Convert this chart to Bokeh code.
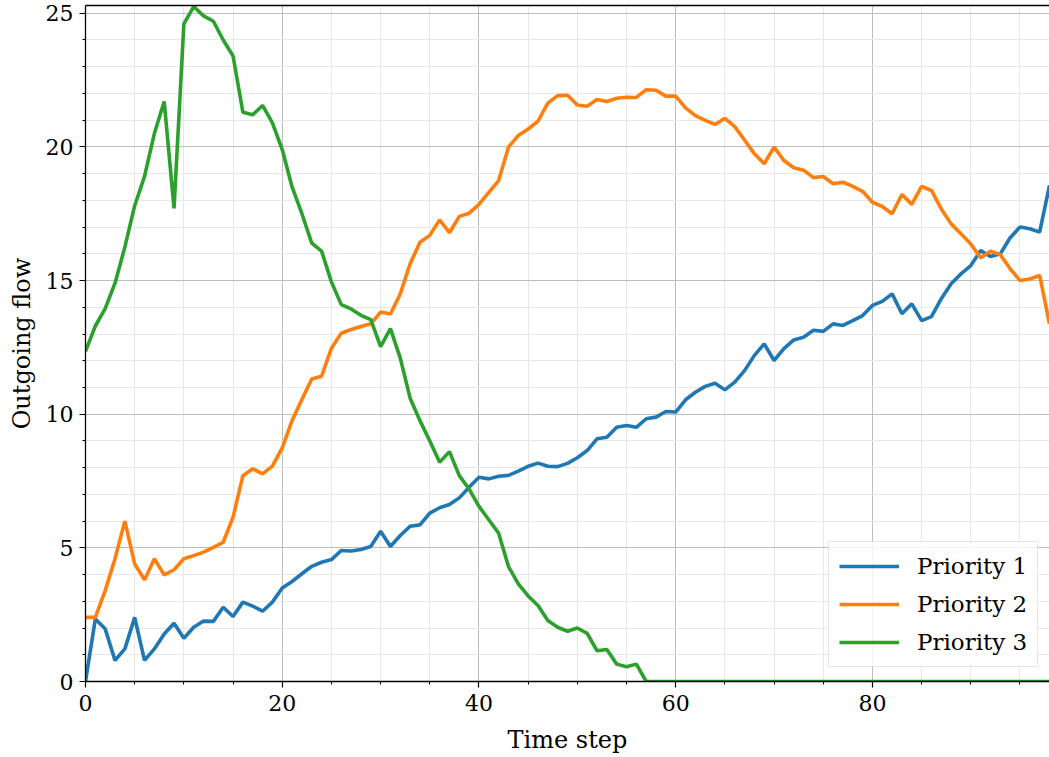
from bokeh.plotting import figure
from bokeh.models import (Range1d, SingleIntervalTicker, FixedTicker, LinearAxis, Legend, LegendItem)
from bokeh.embed import file_html
from bokeh.resources import INLINE

time_step = list(range(99))

priority_1 = [0.0, 2.34, 1.97, 0.79, 1.22, 2.4, 0.79, 1.22, 1.78, 2.18,
              1.62, 2.03, 2.26, 2.25, 2.78, 2.43, 2.97, 2.82, 2.63, 2.97,
              3.5, 3.74, 4.03, 4.31, 4.46, 4.56, 4.9, 4.88, 4.94, 5.05,
              5.62, 5.05, 5.46, 5.81, 5.86, 6.3, 6.5, 6.62, 6.87, 7.27,
              7.64, 7.58, 7.68, 7.71, 7.87, 8.05, 8.17, 8.05, 8.04, 8.16,
              8.37, 8.64, 9.08, 9.14, 9.51, 9.58, 9.51, 9.83, 9.89, 10.1,
              10.08, 10.54, 10.82, 11.04, 11.16, 10.91, 11.2, 11.63, 12.2, 12.63,
              12.01, 12.45, 12.78, 12.88, 13.14, 13.1, 13.38, 13.32, 13.5, 13.69,
              14.07, 14.22, 14.5, 13.76, 14.13, 13.5, 13.65, 14.32, 14.88, 15.25,
              15.56, 16.12, 15.9, 16.0, 16.6, 17.0, 16.94, 16.81, 18.56]

priority_2 = [2.4, 2.4, 3.4, 4.59, 6.0, 4.4, 3.8, 4.59, 3.99, 4.18,
              4.59, 4.71, 4.84, 5.02, 5.21, 6.15, 7.7, 7.96, 7.77, 8.06,
              8.74, 9.76, 10.55, 11.32, 11.42, 12.47, 13.03, 13.17, 13.28, 13.38,
              13.82, 13.75, 14.5, 15.63, 16.43, 16.69, 17.27, 16.79, 17.4, 17.52,
              17.85, 18.3, 18.74, 19.99, 20.43, 20.67, 20.96, 21.64, 21.92, 21.93,
              21.57, 21.52, 21.77, 21.7, 21.82, 21.86, 21.85, 22.14, 22.12, 21.9,
              21.9, 21.46, 21.17, 20.99, 20.84, 21.07, 20.76, 20.26, 19.74, 19.37,
              19.99, 19.49, 19.22, 19.13, 18.85, 18.89, 18.62, 18.68, 18.52, 18.34,
              17.93, 17.77, 17.5, 18.22, 17.85, 18.52, 18.37, 17.68, 17.12, 16.75,
              16.37, 15.85, 16.1, 15.97, 15.44, 15.0, 15.06, 15.19, 13.38]

priority_3 = [12.35, 13.3, 13.95, 14.9, 16.25, 17.8, 18.9, 20.5, 21.7, 17.7,
              24.6, 25.25, 24.9, 24.7, 24.0, 23.4, 21.3, 21.2, 21.55, 20.9,
              19.9, 18.5, 17.5, 16.4, 16.1, 14.95, 14.1, 13.94, 13.7, 13.54,
              12.53, 13.2, 12.1, 10.6, 9.76, 9.0, 8.2, 8.6, 7.7, 7.2,
              6.55, 6.05, 5.55, 4.3, 3.65, 3.2, 2.84, 2.28, 2.03, 1.88,
              2.0, 1.8, 1.15, 1.2, 0.65, 0.55, 0.65, 0.0, 0.0, 0.0,
              0.0, 0.0, 0.0, 0.0, 0.0, 0.0, 0.0, 0.0, 0.0, 0.0,
              0.0, 0.0, 0.0, 0.0, 0.0, 0.0, 0.0, 0.0, 0.0, 0.0,
              0.0, 0.0, 0.0, 0.0, 0.0, 0.0, 0.0, 0.0, 0.0, 0.0,
              0.0, 0.0, 0.0, 0.0, 0.0, 0.0, 0.0, 0.0, 0.0]

series_names = ["Priority 1", "Priority 2", "Priority 3"]
series_colors = ["#1f77b4", "#ff7f0e", "#2ca02c"]

FONT = "DejaVu Serif"

p = figure(width=1049, height=757, output_backend="svg", toolbar_location=None,
           x_range=Range1d(0, 98), y_range=Range1d(0, 25.29))
p.min_border_left = 85
p.min_border_right = 0
p.min_border_top = 5
p.min_border_bottom = 76
p.outline_line_color = None
p.background_fill_color = "white"

lines = []
for ys, c in zip([priority_1, priority_2, priority_3], series_colors):
    r = p.line(time_step, ys, line_color=c, line_width=3.6)
    lines.append(r)

# axes
p.xaxis.ticker = SingleIntervalTicker(interval=20, num_minor_ticks=4)
p.yaxis.ticker = SingleIntervalTicker(interval=5, num_minor_ticks=5)
for ax in [p.xaxis[0], p.yaxis[0]]:
    ax.axis_line_color = "black"
    ax.axis_line_width = 1.3
    ax.major_tick_line_color = "black"
    ax.minor_tick_line_color = "black"
    ax.major_tick_out = 6
    ax.major_tick_in = 0
    ax.minor_tick_out = 3
    ax.minor_tick_in = 0
    ax.major_tick_line_width = 1.2
    ax.minor_tick_line_width = 1.0
    ax.major_label_text_font = FONT
    ax.major_label_text_font_size = "22px"
    ax.major_label_text_color = "black"
    ax.axis_label_text_font = FONT
    ax.axis_label_text_font_size = "24px"
    ax.axis_label_text_font_style = "normal"
    ax.axis_label_text_color = "black"

p.xaxis.axis_label = "Time step"
p.yaxis.axis_label = "Outgoing flow"
p.xaxis.major_label_standoff = 7
p.yaxis.major_label_standoff = 6
p.xaxis.axis_label_standoff = 12
p.yaxis.axis_label_standoff = 7

top = LinearAxis(ticker=FixedTicker(ticks=[]))
top.axis_line_color = "black"
top.axis_line_width = 1.3
top.major_tick_line_color = None
top.minor_tick_line_color = None
p.add_layout(top, "above")

# grids
p.xgrid.grid_line_color = "#bdbdbd"
p.ygrid.grid_line_color = "#bdbdbd"
p.xgrid.grid_line_width = 1
p.ygrid.grid_line_width = 1
p.xgrid.minor_grid_line_color = "#e8e8e8"
p.ygrid.minor_grid_line_color = "#e8e8e8"
p.xgrid.minor_grid_line_width = 1
p.ygrid.minor_grid_line_width = 1

legend = Legend(items=[LegendItem(label=n, renderers=[r]) for n, r in zip(series_names, lines)],
                location=(743, 14))
legend.label_text_font = FONT
legend.label_text_font_size = "23px"
legend.label_text_color = "black"
legend.glyph_width = 60
legend.glyph_height = 28
legend.label_height = 28
legend.spacing = 10
legend.padding = 10
legend.margin = 0
legend.label_standoff = 18
legend.border_line_color = "#cccccc"
legend.border_line_width = 1.2
legend.background_fill_color = "white"
legend.background_fill_alpha = 0.8
p.add_layout(legend, "center")

open("out.html", "w").write(file_html(p, INLINE))
